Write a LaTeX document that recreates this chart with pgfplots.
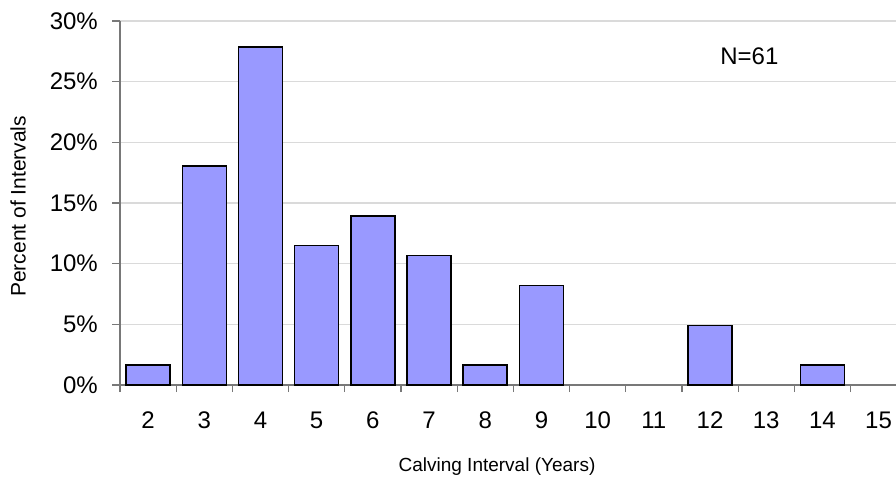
\documentclass[border=0pt]{standalone}
\usepackage{fontspec}
\setmainfont{Liberation Sans}
\usepackage{pgfplots}
\pgfplotsset{compat=1.18}
\definecolor{barfill}{RGB}{153,153,255}
\definecolor{gridgray}{RGB}{218,218,218}
\definecolor{axisgray}{RGB}{120,120,120}
\begin{document}
\begin{tikzpicture}
\begin{axis}[
  at={(0,0)}, anchor=south west,
  scale only axis, width=776pt, height=364pt,
  xmin=1.5, xmax=15.31, ymin=0, ymax=30,
  axis x line*=bottom, axis y line*=left,
  axis line style={draw=axisgray, line width=1.2pt, -},
  ytick={0,5,10,15,20,25,30},
  yticklabels={0\%,5\%,10\%,15\%,20\%,25\%,30\%},
  ymajorgrids, grid style={draw=gridgray, line width=1.3pt},
  xtick={2,...,15},
  xticklabels={2,3,4,5,6,7,8,9,10,11,12,13,14,15},
  minor xtick={1.5,2.5,...,14.5},
  major x tick style={draw=none},
  minor x tick style={draw=axisgray, line width=1.2pt},
  y tick style={draw=axisgray, line width=1.2pt},
  tick align=outside,
  major tick length=8pt, minor tick length=7pt,
  tick label style={font=\fontsize{24}{28}\selectfont, inner sep=0pt},
  xticklabel style={anchor=north, yshift=-19pt},
  yticklabel style={anchor=east, xshift=-14pt},
  clip=false,
]
\addplot[ybar, bar width=44pt, fill=barfill, draw=black, line width=1.5pt]
  coordinates {(2,1.64) (3,18.03) (4,27.87) (5,11.48) (6,13.93) (7,10.66) (8,1.64) (9,8.20) (12,4.92) (14,1.64)};
\node[font=\fontsize{24}{28}\selectfont] at (axis cs:12.7,27.1) {N=61};
\end{axis}
\node[rotate=90, anchor=west, inner sep=0pt, font=\fontsize{21}{25}\selectfont] at (-102pt,88pt) {Percent of Intervals};
\node[font=\fontsize{19}{23}\selectfont] at (377pt,-82pt) {Calving Interval (Years)};
\pgfresetboundingbox
\path[use as bounding box] (-120pt,-97pt) rectangle (776pt,385pt);
\end{tikzpicture}
\end{document}
